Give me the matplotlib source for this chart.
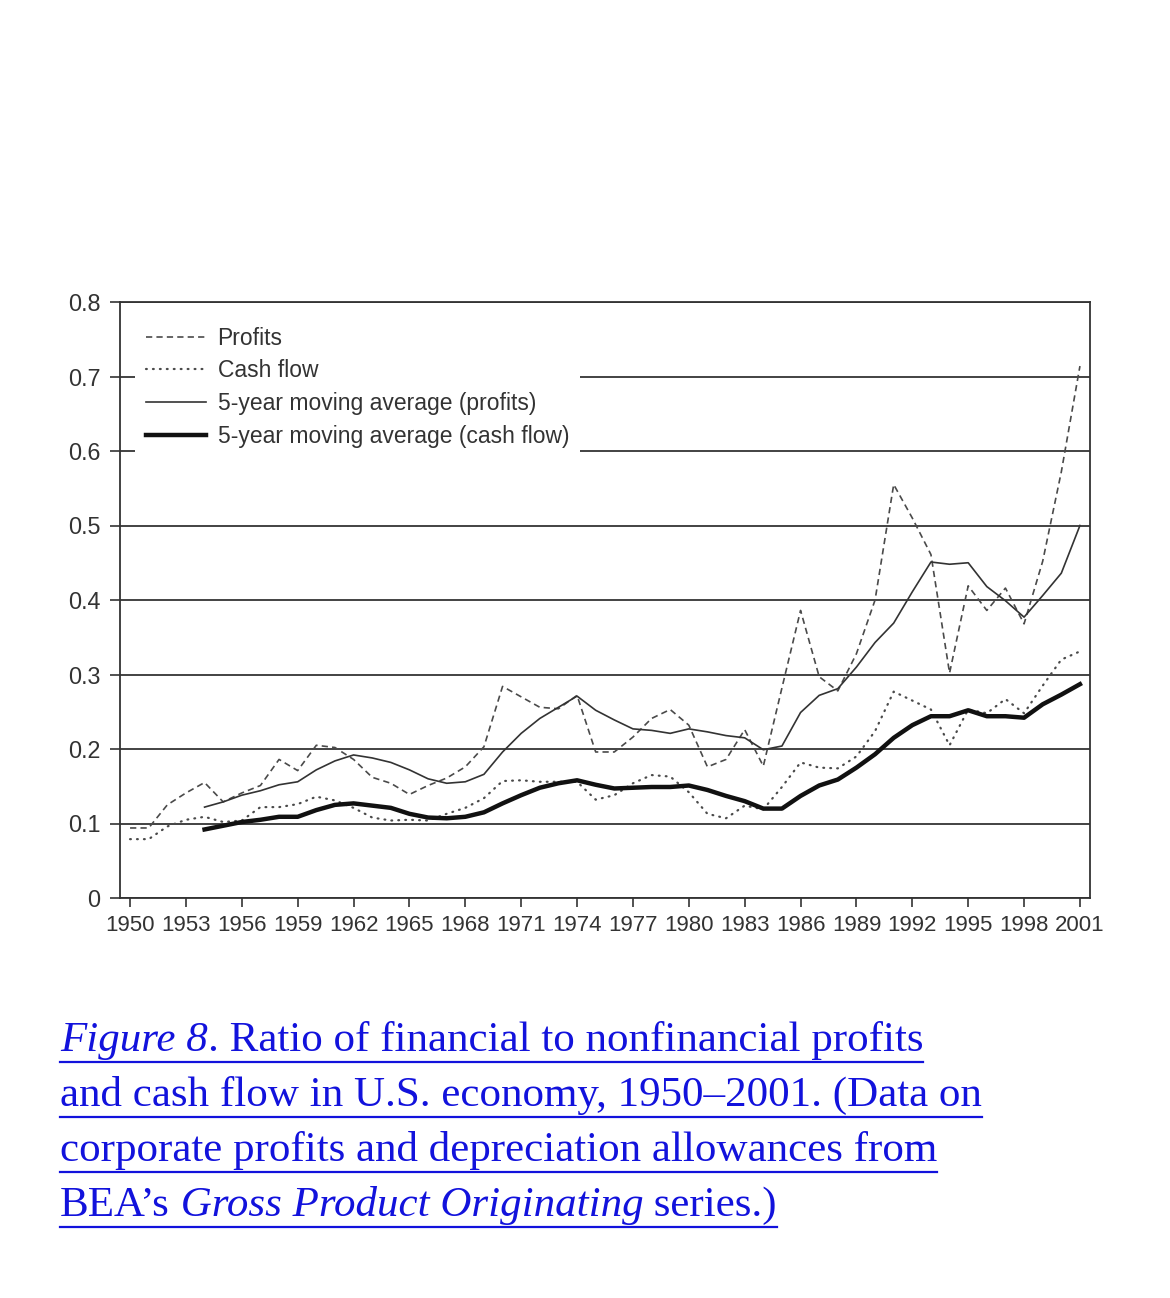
import matplotlib
matplotlib.use('Agg')
import matplotlib.pyplot as plt
from matplotlib.lines import Line2D

# Datos (ratio financiero / no financiero)
years = list(range(1950, 2002))
profits = [0.094, 0.094, 0.125, 0.141, 0.155, 0.129, 0.141, 0.151, 0.186, 0.171,
           0.205, 0.202, 0.186, 0.162, 0.154, 0.139, 0.151, 0.161, 0.176, 0.203,
           0.284, 0.270, 0.256, 0.254, 0.272, 0.196, 0.196, 0.216, 0.241, 0.253,
           0.232, 0.176, 0.186, 0.226, 0.177, 0.282, 0.386, 0.297, 0.278, 0.328,
           0.400, 0.555, 0.510, 0.461, 0.302, 0.419, 0.386, 0.416, 0.368, 0.452,
           0.572, 0.714]
cash_flow = [0.079, 0.079, 0.096, 0.105, 0.109, 0.102, 0.104, 0.122, 0.122, 0.126,
             0.136, 0.131, 0.121, 0.108, 0.104, 0.105, 0.104, 0.113, 0.121, 0.134,
             0.157, 0.158, 0.156, 0.156, 0.156, 0.132, 0.138, 0.154, 0.165, 0.163,
             0.142, 0.113, 0.107, 0.124, 0.119, 0.149, 0.182, 0.175, 0.174, 0.190,
             0.224, 0.277, 0.265, 0.253, 0.205, 0.253, 0.248, 0.267, 0.248, 0.285,
             0.320, 0.331]

ma_years = list(range(1954, 2002))
ma_profits = [0.122, 0.129, 0.138, 0.144, 0.152, 0.156,
              0.172, 0.184, 0.192, 0.188, 0.182, 0.172, 0.160, 0.154, 0.156, 0.166,
              0.196, 0.221, 0.241, 0.256, 0.271, 0.252, 0.239, 0.227, 0.225, 0.221,
              0.227, 0.223, 0.218, 0.215, 0.199, 0.204, 0.249, 0.272, 0.281, 0.310,
              0.343, 0.369, 0.411, 0.451, 0.448, 0.450, 0.418, 0.399, 0.377, 0.406,
              0.436, 0.500]
ma_cash_flow = [0.092, 0.097, 0.102, 0.105, 0.109, 0.109,
                0.118, 0.125, 0.127, 0.124, 0.121, 0.113, 0.108, 0.107, 0.109, 0.115,
                0.127, 0.138, 0.148, 0.154, 0.158, 0.152, 0.147, 0.148, 0.149, 0.149,
                0.151, 0.145, 0.137, 0.130, 0.120, 0.120, 0.137, 0.151, 0.159, 0.175,
                0.193, 0.215, 0.232, 0.244, 0.244, 0.252, 0.244, 0.244, 0.242, 0.260,
                0.273, 0.287]

x_ticks = list(range(1950, 2002, 3))
y_ticks = [0, 0.1, 0.2, 0.3, 0.4, 0.5, 0.6, 0.7, 0.8]
y_labels = ['0', '0.1', '0.2', '0.3', '0.4', '0.5', '0.6', '0.7', '0.8']

caption_lines = [
    [('Figure 8', 'italic'), ('. Ratio of financial to nonfinancial profits', 'normal')],
    [('and cash flow in U.S. economy, 1950\u20132001. (Data on', 'normal')],
    [('corporate profits and depreciation allowances from', 'normal')],
    [('BEA\u2019s', 'normal'), (' Gross Product Originating', 'italic'), (' series.)', 'normal')],
]

plt.rcParams['lines.scale_dashes'] = False
plt.rcParams['font.family'] = ['Liberation Sans', 'DejaVu Sans']

W, H = 1170, 1298
fig = plt.figure(figsize=(W / 100, H / 100), dpi=100)
fig.patch.set_facecolor('white')

# Ejes
ax = fig.add_axes([120 / W, 1 - 898 / H, 970 / W, 596 / H])
ax.plot(years, profits, color='#4a4a4a', lw=1.2, dashes=(4.5, 3), label='Profits')
ax.plot(years, cash_flow, color='#4a4a4a', lw=1.6, dashes=(0.6, 4.4),
        dash_capstyle='round', label='Cash flow')
ax.plot(ma_years, ma_profits, color='#333333', lw=1.2,
        label='5-year moving average (profits)')
ax.plot(ma_years, ma_cash_flow, color='#111111', lw=3.2,
        label='5-year moving average (cash flow)')

ax.set_xlim(1949.46, 2001.54)
ax.set_ylim(0, 0.8)
ax.set_xticks(x_ticks)
ax.set_xticklabels([str(y) for y in x_ticks])
ax.set_yticks(y_ticks)
ax.set_yticklabels(y_labels)
ax.yaxis.grid(True, color='#222222', lw=1.2)
ax.set_axisbelow(True)

for s in ax.spines.values():
    s.set_color('#333333')
    s.set_linewidth(1.3)

ax.tick_params(axis='x', direction='out', length=6.5, width=1.2, color='#333333',
               labelsize=16, labelcolor='#333333', pad=6)
ax.tick_params(axis='y', direction='out', length=7.2, width=1.2, color='#333333',
               labelsize=16.8, labelcolor='#333333', pad=7)

leg = ax.legend(loc='upper left', bbox_to_anchor=(0.0155, 0.978), borderaxespad=0,
                frameon=True, fancybox=False, edgecolor='none', facecolor='white',
                framealpha=1, prop={'family': 'Liberation Sans', 'size': 16.5},
                handlelength=2.6, handletextpad=0.5, labelspacing=0.43, borderpad=0.5)
for t in leg.get_texts():
    t.set_color('#333333')

# Pie de figura, subrayado
blue = '#1212dc'
renderer = fig.canvas.get_renderer()
for i, pieces in enumerate(caption_lines):
    y_px = 1051 + 55 * i
    x_px = 60
    for text, style in pieces:
        t = fig.text(x_px / W, 1 - y_px / H, text, fontsize=31,
                     family='Liberation Serif', style=style, color=blue,
                     ha='left', va='baseline')
        bb = t.get_window_extent(renderer)
        x_px = bb.x1
    fig.add_artist(Line2D([60 / W, x_px / W], [1 - (y_px + 11) / H] * 2,
                          transform=fig.transFigure, color=blue, lw=1.6))

fig.savefig('out.png', dpi=100)
plt.close(fig)
